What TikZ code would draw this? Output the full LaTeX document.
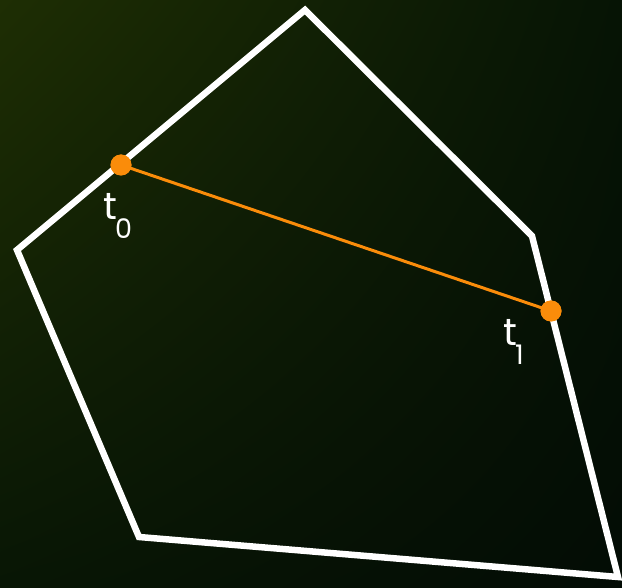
\documentclass[tikz,border=0pt]{standalone}
\usepackage{fontspec}
\setmainfont{Poppins}
\usetikzlibrary{shadings}
\definecolor{bgtl}{RGB}{30,46,4}
\definecolor{bgtr}{RGB}{6,20,5}
\definecolor{bgbl}{RGB}{8,22,5}
\definecolor{bgbr}{RGB}{3,12,5}
\definecolor{dotorange}{RGB}{250,140,10}
\newcommand{\tsub}[1]{t\kern-2pt\raisebox{-19pt}{\fontsize{27}{28}\selectfont #1}}
\tikzset{
  hull/.style={draw=white, line width=6.5pt, line join=miter},
  chord/.style={draw=dotorange, line width=3pt},
  pt/.style={circle, fill=dotorange, inner sep=0pt, minimum size=21pt},
  lbl/.style={text=white, font=\fontsize{38}{40}\selectfont, inner sep=0pt, anchor=base west}
}
\begin{document}
\begin{tikzpicture}[x=1pt,y=-1pt]
  \useasboundingbox (0,0) rectangle (622,588);
  \shade[upper left=bgtl, upper right=bgtr, lower left=bgbl, lower right=bgbr] (0,0) rectangle (622,588);
  \coordinate (A) at (305,10);
  \coordinate (B) at (532,236);
  \coordinate (C) at (618,577);
  \coordinate (D) at (139,537);
  \coordinate (E) at (17,250);
  \draw[hull] (A) -- (B) -- (C) -- (D) -- (E) -- cycle;
  \node[pt] (t0) at (121,165) {};
  \node[pt] (t1) at (551,311) {};
  \draw[chord] (t0.center) -- (t1.center);
  \node[pt] at (t0.center) {};
  \node[pt] at (t1.center) {};
  \node[lbl] (l0) at (103,220) {\tsub{0}};
  \node[lbl] (l1) at (503,346) {\tsub{1}};
\end{tikzpicture}
\end{document}
